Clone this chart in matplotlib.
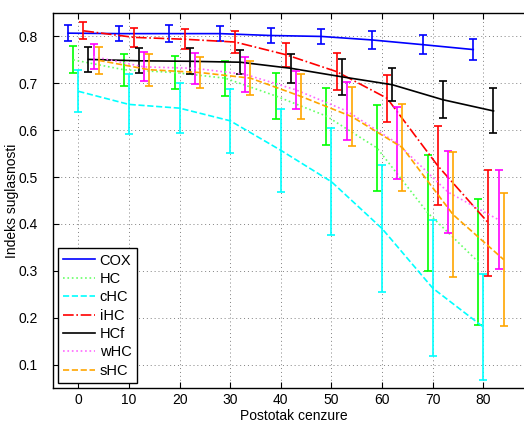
import matplotlib
matplotlib.use('Agg')
import matplotlib.pyplot as plt
import numpy as np

plt.rcParams['font.family'] = ['Liberation Sans', 'DejaVu Sans']
plt.rcParams['font.size'] = 10

# censoring percentage
censoring = [0, 10, 20, 30, 40, 50, 60, 70, 80]

methods = ['COX', 'HC', 'cHC', 'iHC', 'HCf', 'wHC', 'sHC']

cox_mean = [0.807, 0.806, 0.806, 0.806, 0.802, 0.800, 0.7925, 0.7825, 0.772]
cox_err = [0.017, 0.016, 0.018, 0.016, 0.016, 0.016, 0.020, 0.021, 0.023]

hc_mean = [0.750, 0.729, 0.723, 0.711, 0.673, 0.630, 0.562, 0.424, 0.319]
hc_err = [0.029, 0.034, 0.035, 0.037, 0.049, 0.061, 0.091, 0.124, 0.134]

chc_mean = [0.683, 0.655, 0.647, 0.620, 0.557, 0.490, 0.390, 0.263, 0.180]
chc_err = [0.045, 0.064, 0.053, 0.068, 0.089, 0.114, 0.136, 0.145, 0.113]

ihc_mean = [0.812, 0.798, 0.794, 0.788, 0.761, 0.725, 0.668, 0.524, 0.402]
ihc_err = [0.018, 0.020, 0.021, 0.023, 0.026, 0.039, 0.050, 0.084, 0.112]

hcf_mean = [0.751, 0.748, 0.747, 0.745, 0.732, 0.714, 0.697, 0.665, 0.641]
hcf_err = [0.026, 0.027, 0.028, 0.026, 0.031, 0.038, 0.035, 0.040, 0.048]

whc_mean = [0.757, 0.735, 0.732, 0.719, 0.686, 0.641, 0.572, 0.468, 0.409]
whc_err = [0.027, 0.031, 0.033, 0.037, 0.041, 0.061, 0.077, 0.087, 0.106]

shc_mean = [0.749, 0.729, 0.723, 0.711, 0.672, 0.629, 0.563, 0.420, 0.324]
shc_err = [0.029, 0.034, 0.034, 0.036, 0.048, 0.063, 0.093, 0.134, 0.142]

means = [cox_mean, hc_mean, chc_mean, ihc_mean, hcf_mean, whc_mean, shc_mean]
errs = [cox_err, hc_err, chc_err, ihc_err, hcf_err, whc_err, shc_err]

# style per method: color, linestyle, x shift so bars don't overlap
colors = ['#0000ff', '#00ff00', '#00ffff', '#ff0000', '#000000', '#ff00ff', '#ffa500']
line_colors = ['#0000ff', '#66ff66', '#00ffff', '#ff0000', '#000000', '#ff66ff', '#ffa500']
styles = ['-', ':', '--', '-.', '-', ':', '--']
shifts = [-2, -1, 0, 1, 2, 3, 4]

fig = plt.figure(figsize=(5.24, 4.23), dpi=100)
# axes runs past the right edge like in the original (cropped) figure
ax = fig.add_axes([53 / 524, 35 / 423, 481 / 524, 375 / 423])

handles = []
for name, m, e, c, lc, ls, s in zip(methods, means, errs, colors, line_colors, styles, shifts):
    xs = np.array(censoring) + s
    ax.errorbar(xs, m, yerr=e, fmt='none', ecolor=c, elinewidth=1.2,
                capsize=3, capthick=1.2)
    h, = ax.plot(xs, m, color=lc, linestyle=ls, linewidth=1.2, label=name)
    handles.append(h)

ax.set_xlim(-5, 90)
ax.set_ylim(0.05, 0.85)
ax.set_xticks(censoring)
ax.set_yticks(np.arange(0.1, 0.81, 0.1))
ax.set_yticklabels(['%.1f' % v for v in np.arange(0.1, 0.81, 0.1)])
ax.grid(True, color='#808080', linestyle=(0, (1, 3)), linewidth=0.7)
ax.tick_params(direction='in', length=4, top=True, right=True)
ax.tick_params(axis='x', pad=3.5)
ax.tick_params(axis='y', pad=11)
for sp in ax.spines.values():
    sp.set_linewidth(1.0)

ax.set_xlabel('Postotak cenzure')
ax.xaxis.set_label_coords(0.5, -0.057)
ax.set_ylabel('Indeks suglasnosti')
ax.yaxis.set_label_coords(-0.0707, 0.5)

leg = ax.legend(handles=handles, loc='lower left', fancybox=False,
                edgecolor='black', framealpha=1, borderaxespad=0.35,
                handlelength=2.2, handletextpad=0.3, labelspacing=0.3,
                borderpad=0.35, fontsize=10.5)
leg.get_frame().set_linewidth(1.0)

fig.savefig('out.png', dpi=100)
